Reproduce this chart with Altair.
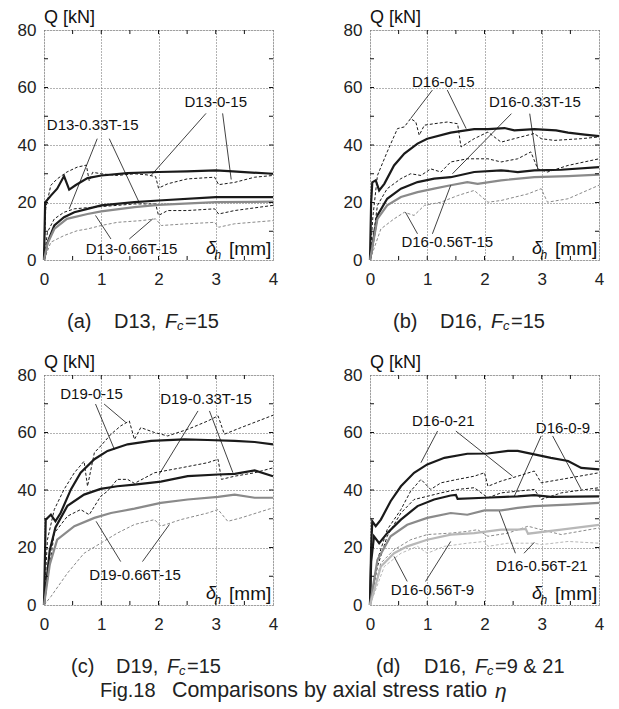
import altair as alt
import pandas as pd

FONT = "Liberation Sans"

# ---------------- data ----------------
# panel (a) D13, Fc=15
A0_CALC_X = [0, 0.02, 0.12, 0.23, 0.35, 0.44, 0.55, 0.76, 1.0, 1.46, 2.0, 2.5, 3.0, 3.3, 4.0]
A0_CALC_Y = [0, 20, 22.4, 24.8, 29.2, 24.5, 26, 28.5, 29.4, 30.2, 30.6, 30.8, 31.2, 30.8, 30]
A0_EXP_X = [0, 0.03, 0.12, 0.23, 0.4, 0.58, 0.74, 0.79, 0.85, 1.0, 1.28, 1.58, 1.8, 1.95, 2.0, 2.16, 2.5, 2.98, 3.05, 3.33, 3.68, 4.0]
A0_EXP_Y = [0, 18, 26, 28.2, 30.6, 32.3, 33, 27.5, 30.5, 30, 29.4, 30, 29.6, 29, 25, 26.5, 28.2, 28.8, 26.2, 27, 28.8, 29.4]
A33_CALC_X = [0, 0.06, 0.18, 0.35, 0.53, 0.76, 1.0, 1.58, 2.0, 3.0, 4.0]
A33_CALC_Y = [0, 6, 12, 14.9, 16.6, 17.8, 19, 20.1, 20.7, 21.9, 21.9]
A33_EXP_X = [0, 0.06, 0.18, 0.35, 0.53, 0.88, 1.28, 1.58, 1.95, 2.0, 2.16, 2.5, 2.98, 3.05, 3.33, 4.0]
A33_EXP_Y = [0, 9.7, 14.3, 16.6, 17.8, 18.4, 19, 19.5, 19.5, 15.5, 17.2, 17.2, 17.8, 16, 17.2, 19]
A66_CALC_X = [0, 0.06, 0.18, 0.4, 0.76, 1.0, 1.58, 2.0, 3.0, 4.0]
A66_CALC_Y = [0, 5.6, 10.8, 14.3, 16, 16.9, 18.4, 19.2, 20.1, 20.3]
A66_EXP_X = [0, 0.12, 0.35, 0.58, 0.76, 1.0, 1.28, 1.7, 1.95, 2.05, 2.5, 2.98, 3.05, 3.33, 4.0]
A66_EXP_Y = [0, 6.2, 8.5, 10.2, 10.8, 12, 13.1, 13.7, 14.3, 12, 12.6, 13.1, 11.4, 12.6, 13.7]

# panel (b) D16, Fc=15
B0_CALC_X = [0, 0.02, 0.04, 0.1, 0.16, 0.25, 0.42, 0.6, 0.83, 1.0, 1.41, 1.82, 2.06, 2.35, 2.52, 2.87, 3.25, 3.46, 3.75, 4.0]
B0_CALC_Y = [0, 20, 27, 27.7, 24.2, 26.5, 32.9, 37, 40.5, 42.2, 44.3, 45.5, 45.5, 45.9, 45.1, 45.5, 45.1, 44.3, 43.6, 43.1]
B0_EXP_X = [0, 0.05, 0.13, 0.3, 0.48, 0.6, 0.71, 0.8, 0.86, 0.95, 1.12, 1.35, 1.53, 1.59, 1.82, 2.06, 2.29, 2.52, 2.87, 2.99, 3.22, 3.69, 4.0]
B0_EXP_Y = [0, 15, 29.4, 37.6, 45.7, 46.3, 49.2, 48, 43.4, 46.9, 47.4, 48, 47.4, 39.3, 42.2, 44.5, 41, 42.2, 44, 42.2, 41.6, 42.2, 42.8]
B33_CALC_X = [0, 0.13, 0.3, 0.54, 0.83, 1.12, 1.41, 1.82, 2.29, 2.58, 2.87, 3.34, 4.0]
B33_CALC_Y = [0, 15.5, 21.3, 24.8, 27.1, 28.3, 28.8, 30.6, 31.2, 30.6, 31.2, 31.4, 32.3]
B33_EXP_X = [0, 0.13, 0.3, 0.54, 0.71, 0.89, 1.06, 1.24, 1.41, 1.7, 2.06, 2.29, 2.58, 2.81, 2.93, 3.1, 3.46, 4.0]
B33_EXP_Y = [0, 19, 24.8, 28.3, 30, 29.4, 31.7, 30.6, 34.1, 35.2, 35.2, 34.1, 35.2, 37.6, 31.7, 30.6, 32.9, 35.2]
B56_CALC_X = [0, 0.13, 0.3, 0.54, 0.83, 1.12, 1.41, 1.7, 1.88, 2.29, 2.87, 3.46, 4.0]
B56_CALC_Y = [0, 14.3, 19, 21.9, 23.6, 24.8, 26, 27.1, 26.5, 27.7, 28.8, 29.2, 29.7]
B56_EXP_X = [0, 0.19, 0.42, 0.6, 0.77, 0.95, 1.24, 1.53, 1.82, 2.06, 2.29, 2.76, 2.99, 3.1, 3.46, 4.0]
B56_EXP_Y = [0, 10.8, 14.3, 16.6, 15.5, 19, 20.1, 22.4, 24.2, 20.1, 20.7, 23, 24.8, 20.1, 21.3, 26]

# panel (c) D19, Fc=15
C0_CALC_X = [0, 0.02, 0.03, 0.12, 0.2, 0.29, 0.47, 0.64, 0.88, 1.11, 1.46, 1.87, 2.45, 2.86, 3.33, 3.68, 4.0]
C0_CALC_Y = [0, 20, 29.7, 31.4, 29.1, 32, 40.2, 46, 50.7, 53.6, 55.9, 57.1, 57.6, 57.4, 57.1, 56.7, 55.9]
C0_EXP_X = [0, 0.06, 0.18, 0.35, 0.53, 0.7, 0.76, 0.88, 0.99, 1.17, 1.34, 1.49, 1.58, 1.69, 1.93, 2.16, 2.51, 2.86, 3.04, 3.15, 3.44, 4.0]
C0_EXP_Y = [0, 22.7, 33.2, 40.2, 46, 50, 41.3, 53, 55.3, 59.4, 62.3, 64, 57.6, 61.7, 60, 58.8, 61.1, 64, 65.8, 59.4, 61.7, 66]
C33_CALC_X = [0, 0.1, 0.2, 0.41, 0.7, 0.99, 1.28, 1.58, 2.04, 2.51, 3.04, 3.33, 3.68, 4.0]
C33_CALC_Y = [0, 19, 27, 34.5, 38.4, 40.4, 41.3, 41.9, 42.9, 44.8, 45.4, 45.6, 46.8, 44.8]
C33_EXP_X = [0, 0.18, 0.41, 0.64, 0.79, 0.99, 1.11, 1.28, 1.46, 1.58, 1.93, 2.39, 2.86, 3.04, 3.1, 3.33, 3.68, 4.0]
C33_EXP_Y = [0, 25, 30.9, 33.2, 31.4, 37.8, 39.6, 43.7, 43.7, 42.3, 46, 47.7, 49.5, 50.7, 43.7, 44.8, 46, 47.7]
C66_CALC_X = [0, 0.1, 0.23, 0.53, 0.88, 1.17, 1.58, 2.04, 2.51, 3.04, 3.33, 3.68, 4.0]
C66_CALC_Y = [0, 14, 22.7, 27.4, 30.3, 32, 33.5, 35.5, 36.7, 37.6, 38.4, 37.3, 37.3]
C66_EXP_X = [0, 0.12, 0.41, 0.7, 0.99, 1.28, 1.58, 1.93, 2.04, 2.39, 2.86, 3.04, 3.21, 3.44, 4.0]
C66_EXP_Y = [0, 2.9, 11.1, 18, 21.5, 25, 28, 29.7, 27.4, 29.7, 32, 33.2, 29.1, 30.3, 33.8]

# panel (d) D16, Fc=9 & 21
D0_21_CALC_X = [0, 0.02, 0.04, 0.1, 0.19, 0.36, 0.54, 0.77, 1.0, 1.3, 1.7, 2.06, 2.41, 2.58, 2.87, 3.16, 3.46, 3.69, 4.0]
D0_21_CALC_Y = [0, 20, 29.1, 27.4, 29.7, 36.1, 41.3, 46, 48.9, 51.2, 52.6, 52.7, 53.6, 53.6, 52.4, 51.2, 50.1, 47.7, 47.2]
D0_9_CALC_X = [0, 0.02, 0.07, 0.16, 0.3, 0.54, 0.83, 1.12, 1.41, 1.5, 1.53, 2.0, 2.58, 2.87, 3.16, 4.0]
D0_9_CALC_Y = [0, 15, 23.9, 21.5, 25, 29.7, 34.4, 36.7, 38.1, 38.3, 36.9, 37.3, 37.8, 38.2, 37.6, 37.8]
D0_21_EXP_X = [0, 0.13, 0.3, 0.54, 0.71, 0.89, 1.06, 1.24, 1.53, 1.82, 2.0, 2.06, 2.29, 2.58, 2.87, 2.99, 3.34, 4.0]
D0_21_EXP_Y = [0, 15.7, 26.2, 33.2, 39.6, 43.7, 40.2, 42.5, 43.7, 44.8, 46, 41.3, 43.1, 44.8, 46.6, 42.5, 43.7, 46]
D0_9_EXP_X = [0, 0.13, 0.3, 0.54, 0.77, 1.0, 1.24, 1.53, 1.82, 2.06, 2.29, 2.58, 2.87, 2.99, 3.34, 4.0]
D0_9_EXP_Y = [0, 13.4, 23.9, 32, 36.7, 37.8, 39, 40.2, 40.8, 37.3, 39, 39.6, 40.2, 36.7, 39, 40.8]
D56_21_CALC_X = [0, 0.13, 0.36, 0.65, 1.0, 1.41, 1.7, 2.0, 2.29, 2.58, 2.87, 3.46, 4.0]
D56_21_CALC_Y = [0, 15.7, 23.9, 27.9, 30.3, 32, 31.4, 32.9, 32.9, 33.8, 34.4, 34.9, 35.5]
D56_9_CALC_X = [0, 0.19, 0.42, 0.65, 1.0, 1.41, 1.82, 2.29, 2.58, 2.72, 2.76, 3.34, 4.0]
D56_9_CALC_Y = [0, 13.4, 18, 20.4, 22.7, 24.5, 25, 26.2, 26.2, 26.5, 24.8, 26.2, 27.9]
D56_21_EXP_X = [0, 0.19, 0.42, 0.71, 1.0, 1.41, 1.7, 1.88, 2.06, 2.41, 2.76, 2.99, 3.34, 4.0]
D56_21_EXP_Y = [0, 14.6, 19.2, 22.7, 24.5, 25, 25.6, 26.2, 23.9, 25, 27.4, 26.2, 24.5, 26.8]
D56_9_EXP_X = [0, 0.25, 0.54, 0.83, 1.0, 1.3, 1.7, 2.0, 2.06, 2.41, 2.87, 2.99, 3.46, 4.0]
D56_9_EXP_Y = [0, 13.4, 18, 20.4, 18, 20.4, 21.5, 22.1, 20.4, 21.5, 21.5, 21, 22.1, 21.5]

# specimen labels: (text, x, y) and leader lines (x, y, x2, y2)
A_LABELS = [("D13-0-15", 3.0, 55), ("D13-0.33T-15", 0.85, 46.9), ("D13-0.66T-15", 1.53, 3.8)]
A_LEADERS = [(2.83, 51, 1.87, 29.4), (3.12, 51, 3.27, 28), (0.93, 42.2, 0.44, 17.8),
             (1.14, 42.2, 1.66, 20.1), (1.17, 7.3, 0.9, 15.5), (1.49, 7.3, 1.9, 14.3)]
B_LABELS = [("D16-0-15", 1.28, 62), ("D16-0.33T-15", 2.88, 55), ("D16-0.56T-15", 1.35, 6.2)]
B_LEADERS = [(1.09, 59.1, 0.71, 49.2), (1.35, 59.1, 1.68, 45.7), (2.47, 50.9, 1.44, 30),
             (2.79, 50.9, 2.93, 31.7), (0.83, 9.1, 0.62, 16.6), (1.09, 9.1, 1.41, 26)]
C_LABELS = [("D19-0-15", 0.83, 73.4), ("D19-0.33T-15", 2.83, 71.6), ("D19-0.66T-15", 1.59, 10.5)]
C_LEADERS = [(0.9, 69.9, 1.23, 54.1), (1.05, 69.9, 1.43, 63.5), (2.69, 67.5, 2.01, 45.4),
             (2.89, 67.5, 3.3, 46), (1.34, 15.1, 0.91, 29.1), (1.72, 15.1, 2.19, 28)]
D_LABELS = [("D16-0-21", 1.28, 64), ("D16-0-9", 3.37, 61.7), ("D16-0.56T-21", 3.0, 13.4), ("D16-0.56T-9", 1.09, 5.2)]
D_LEADERS = [(1.18, 60.5, 0.89, 49.5), (1.5, 60.5, 2.49, 44.8), (2.99, 58.8, 2.52, 37.8),
             (3.19, 58.8, 3.69, 40.2), (2.54, 18, 2.26, 32.6), (2.69, 18, 2.87, 21.8),
             (0.65, 8.2, 0.42, 16.9), (0.97, 8.2, 1.41, 22.1)]

X_TICKS = [0, 1, 2, 3, 4]
Y_TICKS = [0, 20, 40, 60, 80]
X_MINOR = [0.5, 1, 1.5, 2, 2.5, 3, 3.5]
Y_MINOR = [10, 20, 30, 40, 50, 60, 70]

W, H = 229, 230

xs = alt.Scale(domain=[0, 4], nice=False, zero=False)
ys = alt.Scale(domain=[0, 80], nice=False, zero=False)
xax = alt.Axis(values=X_TICKS, title=None, labelFontSize=17, labelFont=FONT, labelColor="#222",
               labelPadding=11, ticks=False, domain=False, grid=True, gridDash=[1, 2],
               gridColor="#555", gridWidth=0.9, labelFlush=False)
yax = alt.Axis(values=Y_TICKS, title=None, labelFontSize=17, labelFont=FONT, labelColor="#222",
               labelPadding=8, ticks=False, domain=False, grid=True, gridDash=[1, 2],
               gridColor="#555", gridWidth=0.9, labelFlush=False)

cscale = alt.Scale(domain=["black", "gray", "light"], range=["#1a1a1a", "#8a8a8a", "#b8b8b8"])


def X(f):
    return alt.X(f, type="quantitative", scale=xs, axis=xax)


def Y(f):
    return alt.Y(f, type="quantitative", scale=ys, axis=yax)


def one(s):
    return pd.DataFrame({"t": [s]})


def ptext(s, px, py, size=20, italic=False, align="left"):
    return alt.Chart(one(s)).mark_text(
        font=FONT, fontSize=size, fontStyle="italic" if italic else "normal",
        align=align, baseline="middle", color="#222"
    ).encode(text="t:N", x=alt.value(px), y=alt.value(py))


def panel(series, labels, leaders, cap):
    rows = []
    for name, kind, style, xv, yv in series:
        for a, b in zip(xv, yv):
            rows.append({"name": name, "kind": kind, "style": style, "x": a, "y": b})
    df = pd.DataFrame(rows)
    base = alt.Chart(df)
    dashed = base.transform_filter(alt.datum.kind == "exp").mark_line(
        strokeDash=[3, 2], strokeWidth=1
    ).encode(x=X("x"), y=Y("y"), color=alt.Color("style:N", scale=cscale, legend=None), detail="name:N")
    solid = base.transform_filter(alt.datum.kind == "calc").mark_line(
        strokeWidth=2.2
    ).encode(x=X("x"), y=Y("y"), color=alt.Color("style:N", scale=cscale, legend=None), detail="name:N")

    ldf = pd.DataFrame(leaders, columns=["x", "y", "x2", "y2"])
    lead = alt.Chart(ldf).mark_rule(color="#111", strokeWidth=0.8).encode(
        x=X("x"), y=Y("y"), x2="x2", y2="y2")
    tdf = pd.DataFrame(labels, columns=["t", "x", "y"])
    lab = alt.Chart(tdf).mark_text(font=FONT, fontSize=15, color="#111", baseline="middle").encode(
        x=X("x"), y=Y("y"), text="t:N")

    # minor ticks on all sides (inward)
    tk_rows = []
    for v in X_MINOR:
        tk_rows.append({"x": v, "y": 0, "x2": v, "y2": 1.4})
        tk_rows.append({"x": v, "y": 80, "x2": v, "y2": 78.6})
    for v in Y_MINOR:
        tk_rows.append({"x": 0, "y": v, "x2": 0.07, "y2": v})
        tk_rows.append({"x": 4, "y": v, "x2": 3.93, "y2": v})
    ticks = alt.Chart(pd.DataFrame(tk_rows)).mark_rule(color="#111", strokeWidth=1).encode(
        x=X("x"), y=Y("y"), x2="x2", y2="y2")

    axt = pd.DataFrame({"t": ["Q [kN]", "δ", "h", "[mm]"], "x": [0.0, 2.83, 2.98, 3.97],
                        "y": [84.2, 3.7, 1.7, 3.8], "k": ["q", "d", "h", "m"]})
    qlab = alt.Chart(axt).transform_filter(alt.datum.k == "q").mark_text(
        font=FONT, fontSize=18, align="left", baseline="middle", color="#111").encode(
        x=X("x"), y=Y("y"), text="t:N")
    dlab = alt.Chart(axt).transform_filter(alt.datum.k == "d").mark_text(
        font=FONT, fontSize=18, fontStyle="italic", align="left", baseline="middle", color="#111").encode(
        x=X("x"), y=Y("y"), text="t:N")
    hlab = alt.Chart(axt).transform_filter(alt.datum.k == "h").mark_text(
        font=FONT, fontSize=12, fontStyle="italic", align="left", baseline="middle", color="#111").encode(
        x=X("x"), y=Y("y"), text="t:N")
    mlab = alt.Chart(axt).transform_filter(alt.datum.k == "m").mark_text(
        font=FONT, fontSize=19, align="right", baseline="middle", color="#111").encode(
        x=X("x"), y=Y("y"), text="t:N")

    layers = [dashed, solid, lead, lab, ticks, qlab, dlab, hlab, mlab]
    layers += cap
    return alt.layer(*layers).properties(width=W, height=H)


def caption(letter, spec, rest, offs):
    o0, o1, o2, o3, o4 = offs
    yy = 292
    return [
        ptext(letter, o0, yy),
        ptext(spec, o1, yy),
        ptext("F", o2, yy, italic=True),
        ptext("c", o3, yy + 4, size=13, italic=True),
        ptext(rest, o4, yy),
    ]


OFF_STD = (23, 70, 121, 133, 141)
OFF_C = (27, 72, 123, 135, 143)
OFF_D = (6, 54, 105, 117, 125)

pa = panel([
    ("a0c", "calc", "black", A0_CALC_X, A0_CALC_Y),
    ("a0e", "exp", "black", A0_EXP_X, A0_EXP_Y),
    ("a33c", "calc", "black", A33_CALC_X, A33_CALC_Y),
    ("a33e", "exp", "black", A33_EXP_X, A33_EXP_Y),
    ("a66c", "calc", "gray", A66_CALC_X, A66_CALC_Y),
    ("a66e", "exp", "gray", A66_EXP_X, A66_EXP_Y),
], A_LABELS, A_LEADERS, caption("(a)", "D13,", "=15", OFF_STD))

pb = panel([
    ("b0c", "calc", "black", B0_CALC_X, B0_CALC_Y),
    ("b0e", "exp", "black", B0_EXP_X, B0_EXP_Y),
    ("b33c", "calc", "black", B33_CALC_X, B33_CALC_Y),
    ("b33e", "exp", "black", B33_EXP_X, B33_EXP_Y),
    ("b56c", "calc", "gray", B56_CALC_X, B56_CALC_Y),
    ("b56e", "exp", "gray", B56_EXP_X, B56_EXP_Y),
], B_LABELS, B_LEADERS, caption("(b)", "D16,", "=15", OFF_STD))

fig_caption = [
    ptext("Fig.18", 56, 316),
    ptext("Comparisons by axial stress ratio", 128, 316, size=21.4),
    ptext("η", 451, 317, size=21, italic=True),
]

pc = panel([
    ("c0c", "calc", "black", C0_CALC_X, C0_CALC_Y),
    ("c0e", "exp", "black", C0_EXP_X, C0_EXP_Y),
    ("c33c", "calc", "black", C33_CALC_X, C33_CALC_Y),
    ("c33e", "exp", "black", C33_EXP_X, C33_EXP_Y),
    ("c66c", "calc", "gray", C66_CALC_X, C66_CALC_Y),
    ("c66e", "exp", "gray", C66_EXP_X, C66_EXP_Y),
], C_LABELS, C_LEADERS, caption("(c)", "D19,", "=15", OFF_C) + fig_caption)

pd_ = panel([
    ("d21c", "calc", "black", D0_21_CALC_X, D0_21_CALC_Y),
    ("d9c", "calc", "black", D0_9_CALC_X, D0_9_CALC_Y),
    ("d21e", "exp", "black", D0_21_EXP_X, D0_21_EXP_Y),
    ("d9e", "exp", "black", D0_9_EXP_X, D0_9_EXP_Y),
    ("d5621c", "calc", "gray", D56_21_CALC_X, D56_21_CALC_Y),
    ("d569c", "calc", "light", D56_9_CALC_X, D56_9_CALC_Y),
    ("d5621e", "exp", "gray", D56_21_EXP_X, D56_21_EXP_Y),
    ("d569e", "exp", "light", D56_9_EXP_X, D56_9_EXP_Y),
], D_LABELS, D_LEADERS, caption("(d)", "D16,", "=9 & 21", OFF_D))

chart = alt.concat(
    pa, pb, pc, pd_, columns=2,
    spacing=alt.RowColnumber(row=115, column=97), bounds="flush",
).properties(
    padding={"left": 8, "top": 0, "right": 0, "bottom": 0}
).configure_view(
    stroke="#111", strokeWidth=1.5
).configure(background="white")

chart.save("out.html", embed_options={"renderer": "svg", "actions": False})
